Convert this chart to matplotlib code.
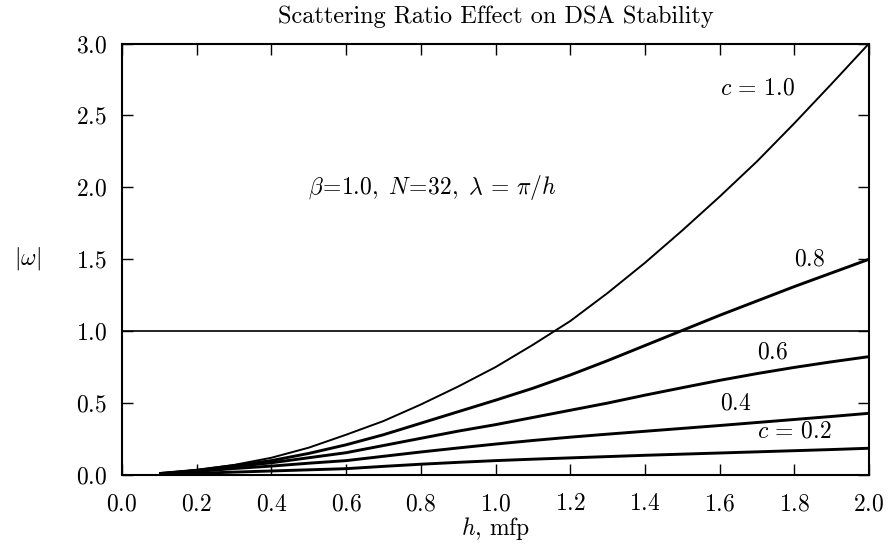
import matplotlib
matplotlib.use("Agg")
import matplotlib.pyplot as plt

plt.rcParams['font.family'] = ['cmr10', 'DejaVu Serif']
plt.rcParams['mathtext.fontset'] = 'cm'
plt.rcParams['axes.formatter.use_mathtext'] = True

# ---- data ----
h = [0.1, 0.2, 0.3, 0.4, 0.5, 0.6, 0.7, 0.8, 0.9, 1.0, 1.1, 1.2, 1.3, 1.4,
     1.5, 1.6, 1.7, 1.8, 1.9, 2.0]
omega_c10 = [0.01, 0.035, 0.07, 0.12, 0.19, 0.28, 0.375, 0.49, 0.615, 0.75,
             0.905, 1.07, 1.265, 1.475, 1.70, 1.935, 2.18, 2.445, 2.72, 3.0]
omega_c08 = [0.01, 0.033, 0.065, 0.10, 0.15, 0.21, 0.28, 0.36, 0.44, 0.52,
             0.603, 0.695, 0.795, 0.90, 1.005, 1.11, 1.21, 1.31, 1.405, 1.50]
omega_c06 = [0.01, 0.03, 0.058, 0.085, 0.12, 0.155, 0.205, 0.255, 0.305, 0.35,
             0.40, 0.45, 0.50, 0.555, 0.607, 0.658, 0.705, 0.748, 0.787, 0.823]
omega_c04 = [0.008, 0.025, 0.045, 0.062, 0.082, 0.10, 0.13, 0.16, 0.188, 0.215,
             0.24, 0.263, 0.284, 0.304, 0.324, 0.344, 0.365, 0.386, 0.407, 0.429]
omega_c02 = [0.005, 0.012, 0.02, 0.028, 0.036, 0.044, 0.06, 0.075, 0.088, 0.10,
             0.11, 0.119, 0.128, 0.137, 0.145, 0.153, 0.161, 0.169, 0.177, 0.186]
unity = 1.0

series = [omega_c10, omega_c08, omega_c06, omega_c04, omega_c02]
series_lw = [1.4, 2.1, 2.1, 2.1, 2.1]

curve_labels = [r"$c\,=\,1.0$", r"$0.8$", r"$0.6$", r"$0.4$", r"$c\,=\,0.2$"]
label_pos = [(1.60, 2.69), (1.80, 1.50), (1.70, 0.855), (1.60, 0.50), (1.70, 0.30)]

xticks = [0.0, 0.2, 0.4, 0.6, 0.8, 1.0, 1.2, 1.4, 1.6, 1.8, 2.0]
xticklabels = ["0.0", "0.2", "0.4", "0.6", "0.8", "1.0", "1.2", "1.4", "1.6", "1.8", "2.0"]
yticks = [0.0, 0.5, 1.0, 1.5, 2.0, 2.5, 3.0]
yticklabels = ["0.0", "0.5", "1.0", "1.5", "2.0", "2.5", "3.0"]

title = "Scattering Ratio Effect on DSA Stability"
xlabel = r"$h$, mfp"
ylabel = r"$|\omega|$"
note = r"$\beta\!=\!1.0,\ N\!=\!32,\ \lambda\,=\,\pi/h$"

FS = 17

fig = plt.figure(figsize=(8.89, 5.46), dpi=100)
ax = fig.add_axes([122 / 889, 71 / 546, (869 - 122) / 889, (475 - 43.5) / 546])

for ys, lw in zip(series, series_lw):
    ax.plot(h, ys, color="black", lw=lw, solid_capstyle="butt")
ax.axhline(unity, color="black", lw=1.2)

for txt, (x, y) in zip(curve_labels, label_pos):
    ax.text(x, y, txt, fontsize=FS, ha="left", va="center")

ax.text(0.498, 2.0, note, fontsize=FS, ha="left", va="center")

ax.set_xlim(0, 2.0)
ax.set_ylim(0, 3.0)
ax.set_xticks(xticks)
ax.set_xticklabels(["$%s$" % s for s in xticklabels])
ax.set_yticks(yticks)
ax.set_yticklabels(["$%s$" % s for s in yticklabels])
ax.tick_params(direction="in", length=8, width=1.0, top=True, right=True,
               labelsize=FS)
ax.tick_params(axis="x", pad=13)
ax.tick_params(axis="y", pad=11)
for sp in ax.spines.values():
    sp.set_linewidth(1.5)

ax.set_title(title, fontsize=17.5, pad=15)
ax.set_xlabel(xlabel, fontsize=FS, labelpad=0)
ax.set_ylabel(ylabel, fontsize=FS, rotation=0, labelpad=30, va="center")
ax.yaxis.set_label_coords(-122 / 889 * (889 / 747) + 27 / 747, (259 - 43.5) / -431.5 + 1)

fig.savefig("out.png", dpi=100)
